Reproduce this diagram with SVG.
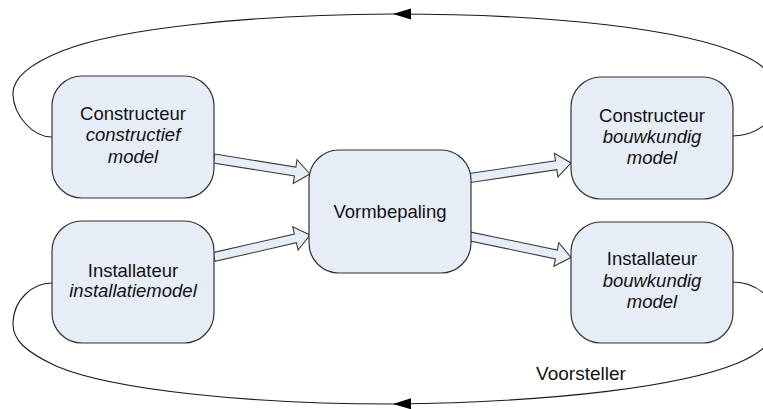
<svg xmlns="http://www.w3.org/2000/svg" width="763" height="409" viewBox="0 0 763 409">
  <style>
    .box { fill: #e7edf7; stroke: #333333; stroke-width: 1.2; }
    .flow { fill: #e7edf7; stroke: #3c3c3c; stroke-width: 1.1; stroke-linejoin: miter; }
    .loop { fill: none; stroke: #1a1a1a; stroke-width: 1.1; }
    text { font-family: "Liberation Sans", Arial, sans-serif; font-size: 18.5px; fill: #111111; text-anchor: middle; }
    .it { font-style: italic; }
  </style>
  <defs>
    <marker id="head" markerUnits="userSpaceOnUse" markerWidth="19" markerHeight="12" refX="18" refY="5.5" orient="auto" overflow="visible">
      <path d="M0,0 L18,5.5 L0,11 z" fill="#000000"/>
    </marker>
  </defs>

  <!-- connectors -->
  <g id="connectors">
    <!-- feedback loop across the top -->
    <path class="loop" marker-end="url(#head)" d="M733,136 C755,136 778,120 779,100 C780,80 765,64 740,54 C685,30 560,14 393,14"/>
    <path class="loop" d="M393,14 C250,15 120,28 62,51 C27,65 12,80 13,95 C14,115 32,137 52,137"/>
    <!-- feedback loop across the bottom -->
    <path class="loop" marker-end="url(#head)" d="M733,282 C756,282 778,300 778,320 C778,338 764,352 738,363 C682,386 560,402 393,404"/>
    <path class="loop" d="M393,404 C250,404 112,390 56,366 C26,352 12,340 13,322 C14,300 32,283 52,283"/>
    <!-- block arrows into and out of Vormbepaling -->
    <path class="flow" transform="translate(214,158.5) rotate(9.17)" d="M0,-4.5 H82.2 V-12 L97.2,0 L82.2,12 V4.5 H0 Z"/>
    <path class="flow" transform="translate(214,257) rotate(-12.9)" d="M0,-4.5 H83.5 V-12 L98.5,0 L83.5,12 V4.5 H0 Z"/>
    <path class="flow" transform="translate(470,178) rotate(-8.45)" d="M0,-4.5 H87.1 V-12 L102.1,0 L87.1,12 V4.5 H0 Z"/>
    <path class="flow" transform="translate(470,236.5) rotate(11.75)" d="M0,-4.5 H88.2 V-12 L103.2,0 L88.2,12 V4.5 H0 Z"/>
    <text x="581" y="380" style="font-size:19px">Voorsteller</text>
  </g>

  <!-- nodes -->
  <g id="constructeur-in">
    <rect class="box" x="52" y="76" width="162" height="122" rx="30" ry="30"/>
    <text x="133" y="120">Constructeur</text>
    <text class="it" x="133" y="141">constructief</text>
    <text class="it" x="133" y="163">model</text>
  </g>
  <g id="installateur-in">
    <rect class="box" x="52" y="221" width="162" height="122" rx="30" ry="30"/>
    <text x="133" y="277">Installateur</text>
    <text class="it" x="133" y="297">installatiemodel</text>
  </g>
  <g id="vormbepaling">
    <rect class="box" x="309" y="150" width="162" height="123" rx="30" ry="30"/>
    <text x="390" y="218">Vormbepaling</text>
  </g>
  <g id="constructeur-out">
    <rect class="box" x="571" y="77" width="162" height="122" rx="30" ry="30"/>
    <text x="652" y="122">Constructeur</text>
    <text class="it" x="652" y="143">bouwkundig</text>
    <text class="it" x="652" y="164">model</text>
  </g>
  <g id="installateur-out">
    <rect class="box" x="571" y="222" width="162" height="121" rx="30" ry="30"/>
    <text x="652" y="265">Installateur</text>
    <text class="it" x="652" y="287">bouwkundig</text>
    <text class="it" x="652" y="308">model</text>
  </g>
</svg>
